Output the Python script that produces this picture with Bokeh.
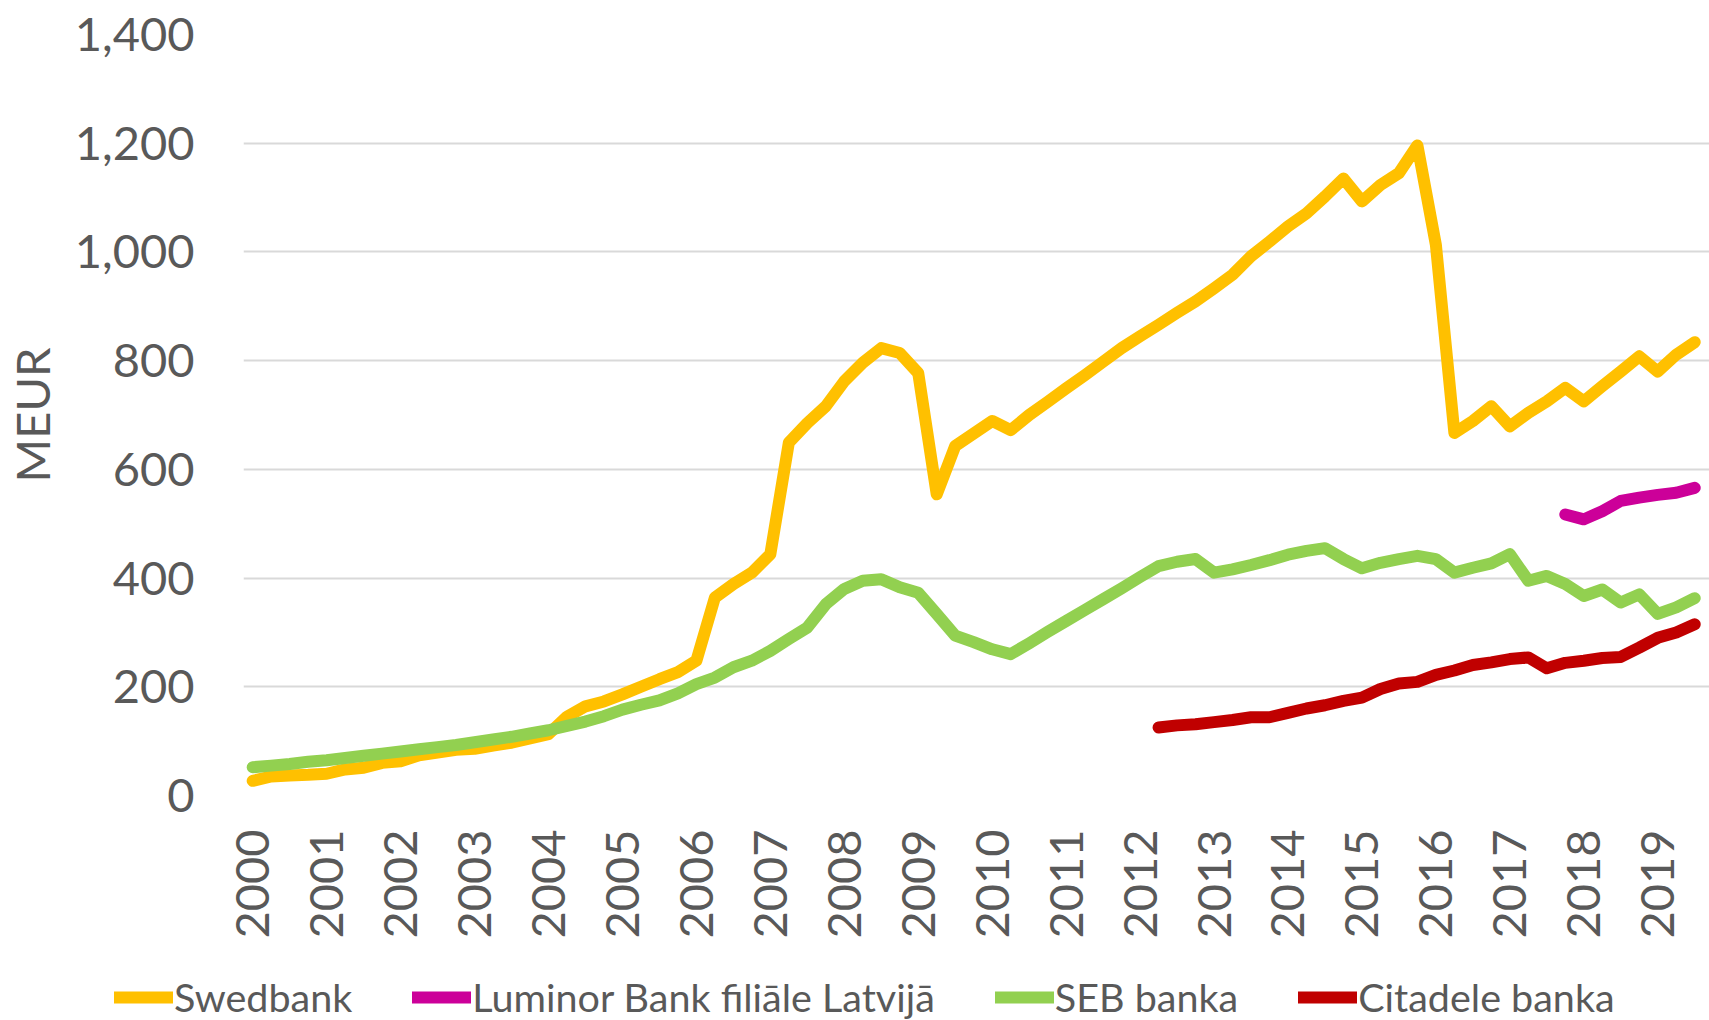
import math
from bokeh.plotting import figure
from bokeh.layouts import column
from bokeh.models import FixedTicker, NumeralTickFormatter, Legend, LegendItem, Range1d
from bokeh.embed import file_html
from bokeh.resources import INLINE

# ---- data (quarterly, 2000Q1 .. 2019Q3), MEUR ----
year_labels = ["2000", "2001", "2002", "2003", "2004", "2005", "2006", "2007", "2008", "2009",
               "2010", "2011", "2012", "2013", "2014", "2015", "2016", "2017", "2018", "2019"]

swedbank = [27, 35, 37, 38,
            40, 48, 51, 60,
            63, 74, 79, 84,
            86, 92, 97, 105,
            113, 145, 164, 173,
            186, 200, 214, 227,
            248, 364, 389, 410,
            444, 649, 685, 716,
            762, 796, 823, 814,
            777, 554, 643, 666,
            689, 672, 700, 724,
            749, 773, 798, 823,
            845, 866, 888, 909,
            933, 958, 992, 1019,
            1047, 1071, 1102, 1135,
            1093, 1123, 1145, 1196,
            1013, 667, 689, 716,
            679, 704, 725, 750,
            725, 753, 780, 808,
            780, 811, 834]

seb = [52, 55, 58, 62,
       65, 69, 73, 77,
       81, 85, 89, 93,
       98, 103, 108, 114,
       120, 128, 136, 146,
       158, 167, 175, 188,
       205, 217, 236, 248,
       266, 288, 309, 352,
       380, 395, 398, 383,
       373, 334, 294, 282,
       269, 260, 280, 301,
       321, 341, 361, 381,
       402, 422, 430, 435,
       410, 416, 424, 433,
       443, 450, 455, 435,
       418, 428, 435, 441,
       435, 410, 419, 427,
       444, 395, 404, 389,
       367, 379, 355, 370,
       334, 346, 363]

# Luminor starts 2017Q4, Citadele starts 2012Q2
luminor_start = (2017, 4)
luminor = [517, 508, 523, 542, 548, 553, 557, 566]

citadele_start = (2012, 2)
citadele = [125, 129, 131,
            135, 139, 144, 144,
            152, 160, 166, 174,
            180, 196, 206, 209,
            222, 230, 240, 245,
            251, 254, 234, 244,
            248, 253, 255, 272,
            290, 300, 315]

series_names = ["Swedbank", "Luminor Bank filiāle Latvijā", "SEB banka", "Citadele banka"]
series_colors = ["#FFC000", "#CC0099", "#92D050", "#C00000"]

y_ticks = [0, 200, 400, 600, 800, 1000, 1200, 1400]


def q_index(yq):
    return (yq[0] - 2000) * 4 + (yq[1] - 1)


x_all = list(range(len(swedbank)))
lum_i0 = q_index(luminor_start)
cit_i0 = q_index(citadele_start)
x_lum = list(range(lum_i0, lum_i0 + len(luminor)))
x_cit = list(range(cit_i0, cit_i0 + len(citadele)))

FONT = "Lato"
TXT = "#595959"
LW = 12
common = dict(line_width=LW, line_cap="round", line_join="round")

# ---------------- main chart ----------------
p = figure(width=1709, height=960, output_backend="svg", toolbar_location=None,
           x_range=Range1d(-0.497, 78.8), y_range=Range1d(0, 1400),
           min_border_left=242, min_border_right=0, min_border_top=34, min_border_bottom=165)
p.outline_line_color = None
p.background_fill_color = "white"
p.frame_align = False

p.yaxis.ticker = FixedTicker(ticks=y_ticks)
p.yaxis.formatter = NumeralTickFormatter(format="0,0")
p.yaxis.axis_line_color = None
p.yaxis.major_tick_line_color = None
p.yaxis.minor_tick_line_color = None
p.yaxis.major_label_text_font = FONT
p.yaxis.major_label_text_font_size = "47px"
p.yaxis.major_label_text_color = TXT
p.yaxis.major_label_standoff = 43
p.yaxis.axis_label = "MEUR"
p.yaxis.axis_label_text_font = FONT
p.yaxis.axis_label_text_font_size = "47px"
p.yaxis.axis_label_text_font_style = "normal"
p.yaxis.axis_label_text_color = TXT
p.yaxis.axis_label_standoff = 12

x_ticks = [4 * k for k in range(len(year_labels))]
p.xaxis.ticker = FixedTicker(ticks=x_ticks)
p.xaxis.major_label_overrides = {t: lab for t, lab in zip(x_ticks, year_labels)}
p.xaxis.major_label_orientation = math.pi / 2
p.xaxis.axis_line_color = None
p.xaxis.major_tick_line_color = None
p.xaxis.minor_tick_line_color = None
p.xaxis.major_label_text_font = FONT
p.xaxis.major_label_text_font_size = "47px"
p.xaxis.major_label_text_color = TXT
p.xaxis.major_label_standoff = 28

p.xgrid.grid_line_color = None
p.ygrid.grid_line_color = "#D9D9D9"
p.ygrid.grid_line_width = 2

p.line(x_all, swedbank, line_color=series_colors[0], **common)
p.line(x_lum, luminor, line_color=series_colors[1], **common)
p.line(x_all, seb, line_color=series_colors[2], **common)
p.line(x_cit, citadele, line_color=series_colors[3], **common)

# ---------------- legend strip ----------------
leg = figure(width=1709, height=60, output_backend="svg", toolbar_location=None,
             x_axis_location=None, y_axis_location=None,
             x_range=Range1d(0, 1), y_range=Range1d(0, 1),
             min_border_left=0, min_border_right=0, min_border_top=0, min_border_bottom=0)
leg.outline_line_color = None
leg.xgrid.grid_line_color = None
leg.ygrid.grid_line_color = None
leg.frame_align = False

items = []
for name, col in zip(series_names, series_colors):
    # legend proxy: a single empty (NaN) point, only its style is used by the legend
    r = leg.line([0], [float("nan")], line_color=col, **common)
    items.append(LegendItem(label=name, renderers=[r]))

legend = Legend(items=items, orientation="horizontal", location=(114, 0),
                glyph_width=59, glyph_height=20, label_standoff=1, spacing=60,
                padding=0, margin=0, border_line_color=None, background_fill_alpha=0,
                label_text_font=FONT, label_text_font_size="39.5px", label_text_color=TXT)
leg.add_layout(legend, "center")

layout = column(p, leg, spacing=0)
open("out.html", "w").write(file_html(layout, INLINE))
